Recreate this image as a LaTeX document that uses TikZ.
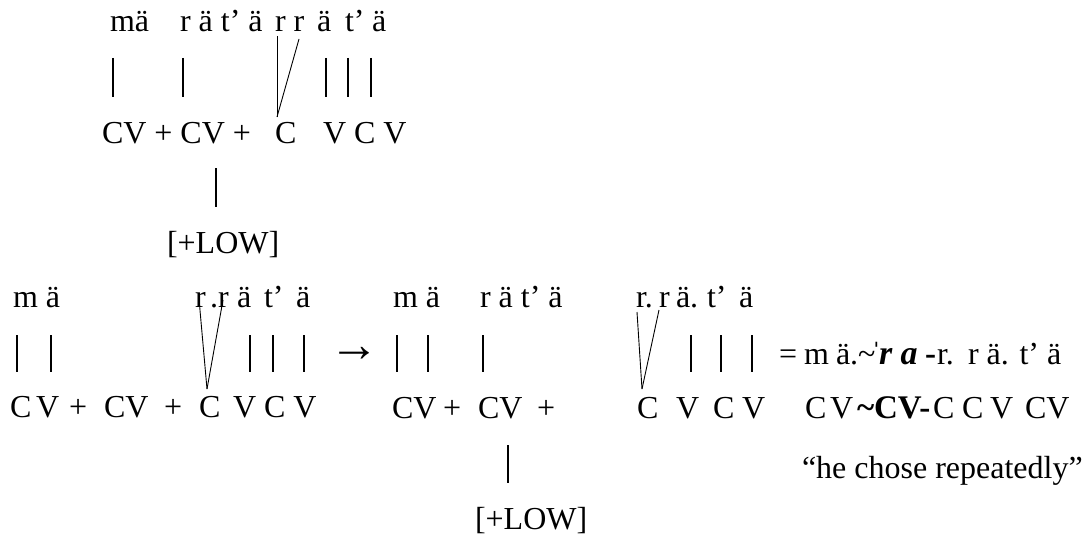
\documentclass[tikz,border=0pt]{standalone}
\usepackage{fontspec}
\setmainfont{Liberation Serif}
\begin{document}
\begin{tikzpicture}[x=1pt,y=-1pt,
  txt/.style={anchor=base west,inner sep=0pt,outer sep=0pt,font=\fontsize{32}{38}\selectfont},
  bigbf/.style={txt,font=\fontsize{33}{40}\selectfont\bfseries},
  bigbi/.style={txt,font=\fontsize{34}{40}\selectfont\bfseries\itshape},
  bar/.style={line width=2.6pt},
  assoc/.style={line width=0.9pt}]
\useasboundingbox (0,0) rectangle (1088,535);

% ---------- top block ----------
\node[txt] (t1) at (110,32) {mä};
\node[txt] (t2) at (180,32) {r ä t’ ä};
\node[txt] (t3) at (275,32) {r r};
\node[txt] (t4) at (317,32) {ä};
\node[txt] (t5) at (345,32) {t’};
\node[txt] (t6) at (372,32) {ä};
\foreach \x in {113,183,326,348,371} \draw[bar] (\x,58) -- (\x,97);
\coordinate (tc) at (277,117);
\draw[assoc] (277,36) -- (tc);
\draw[assoc] (299,39) -- (tc);
\node[txt] (t7) at (102,143) {CV + CV +};
\node[txt] (t8) at (275,143) {C};
\node[txt] (t9) at (323,143) {V C V};
\draw[bar] (216,168) -- (216,207);
\node[txt] (t10) at (167,253) {[+LOW]};

% ---------- bottom left ----------
\node[txt] (b1) at (13,307) {m ä};
\node[txt] (b2) at (195,307) {r};
\node[txt] (b3) at (210,307) {.r};
\node[txt] (b4) at (237,307) {ä};
\node[txt] (b5) at (264,307) {t’};
\node[txt] (b6) at (296,307) {ä};
\foreach \x in {17,51,250,273,304} \draw[bar] (\x,335) -- (\x,372);
\coordinate (bc) at (207,389);
\draw[assoc] (199,299) -- (bc);
\draw[assoc] (223,300) -- (bc);
\node[txt,anchor=center,font=\fontsize{50}{56}\selectfont] (arr) at (354,354) {→};
\node[txt] (c1) at (10,417) {C};
\node[txt] (c2) at (36,417) {V};
\node[txt] (c3) at (69,417) {+};
\node[txt] (c4) at (104,417) {CV};
\node[txt] (c5) at (164,417) {+};
\node[txt] (c6) at (199,417) {C};
\node[txt] (c7) at (233,417) {V C V};

% ---------- bottom middle ----------
\node[txt] (m1) at (393,307) {m ä};
\node[txt] (m2) at (480,307) {r ä t’ ä};
\node[txt] (m3) at (636,307) {r.};
\node[txt] (m4) at (659,307) {r};
\node[txt] (m5) at (676,307) {ä.};
\node[txt] (m6) at (707,307) {t’};
\node[txt] (m7) at (739,307) {ä};
\foreach \x in {397,428,483,691,721,752} \draw[bar] (\x,335) -- (\x,372);
\coordinate (mc) at (642,389);
\draw[assoc] (637,312) -- (mc);
\draw[assoc] (659,310) -- (mc);
\node[txt] (d1) at (392,418) {CV};
\node[txt] (d2) at (443,418) {+};
\node[txt] (d3) at (478,418) {CV};
\node[txt] (d4) at (537,418) {+};
\node[txt] (d5) at (637,418) {C};
\node[txt] (d6) at (676,418) {V};
\node[txt] (d7) at (713,418) {C};
\node[txt] (d8) at (742,418) {V};
\draw[bar] (508,445) -- (508,483);
\node[txt] (d9) at (475,529) {[+LOW]};

% ---------- right ----------
\node[txt] (q1) at (779,364) {=};
\node[txt] (q2) at (804,364) {m};
\node[txt] (q3) at (836,364) {ä.\textasciitilde};
\node[txt] (q4) at (871,364) {ˈ};
\node[bigbi] (q5) at (879,364) {r a};
\node[bigbf] (q6) at (925,364) {-};
\node[txt] (q7) at (937,364) {r.};
\node[txt] (q8) at (968,364) {r ä. t’ ä};
\node[txt] (s1) at (805,418) {C};
\node[txt] (s2) at (830,418) {V};
\node[bigbf] (s3) at (857,418) {\textasciitilde CV-};
\node[txt] (s4) at (933,418) {C};
\node[txt] (s5) at (962,418) {C};
\node[txt] (s6) at (990,418) {V};
\node[txt] (s7) at (1025,418) {CV};
\node[txt] (g1) at (802,478) {“he chose repeatedly”};
\end{tikzpicture}
\end{document}
